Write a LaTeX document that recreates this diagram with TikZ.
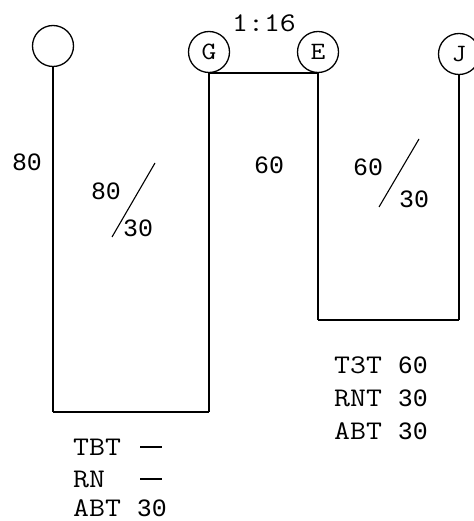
\documentclass[tikz,border=0pt]{standalone}
\usepackage{fontspec}
\newfontfamily\digf{Liberation Mono}
\newfontfamily\tyf{Latin Modern Mono}[FakeStretch=1.15]
\newcommand{\dg}[1]{{\digf\fontsize{25}{25}\selectfont #1}}
\newcommand{\dl}[1]{\makebox[67bp][l]{#1}\raisebox{7bp}{\rule{22bp}{2.5bp}}}
\begin{document}
\begin{tikzpicture}[x=1bp,y=-1bp,
  stn/.style={circle,draw,line width=1.3bp,minimum size=41bp,inner sep=0pt,font=\tyf\fontsize{25}{25}\selectfont},
  lbl/.style={font=\tyf\fontsize{27}{27}\selectfont,inner sep=0pt},
  num/.style={font=\digf\fontsize{25}{25}\selectfont,inner sep=0pt},
  ln/.style={line width=1.1bp},
  bot/.style={line width=2bp}]
\useasboundingbox (0,0) rectangle (474,521);
\node[stn] (A) at (53,46) {};
\node[stn] (G) at (209,52) {G};
\node[stn] (E) at (318,52) {E};
\node[stn] (J) at (459,54) {J};
\coordinate (ab) at (53,412);
\coordinate (gb) at (209,412);
\coordinate (eb) at (318,320);
\coordinate (jb) at (459,320);
\draw[ln] (A.south) -- (ab);
\draw[ln] (G.south) -- (gb);
\draw[bot] (ab) -- (gb);
\draw[bot] (G.south) -- (E.south);
\draw[ln] (E.south) -- (eb);
\draw[ln] (J.south) -- (jb);
\draw[bot] (eb) -- (jb);
\node[lbl] (t116) at (264,23) {1:16};
\node[num] (l80) at (27,162) {80};
\node[num] (m80) at (106,191) {80};
\node[num] (m30) at (138,228) {30};
\draw[ln] (155,163) -- (112,237);
\node[num] (l60) at (269,165) {60};
\node[num] (r60) at (368,167) {60};
\node[num] (r30) at (414,199) {30};
\draw[ln] (419,139) -- (379,207);
\node[lbl,anchor=west] (a1) at (73,447) {\dl{TBT}};
\node[lbl,anchor=west] (a2) at (73,479) {\dl{RN}};
\node[lbl,anchor=west] (a3) at (73,508) {ABT \dg{30}};
\node[lbl,anchor=west] (b1) at (334,365) {T3T \dg{60}};
\node[lbl,anchor=west] (b2) at (334,398) {RNT \dg{30}};
\node[lbl,anchor=west] (b3) at (334,431) {ABT \dg{30}};
\end{tikzpicture}
\end{document}
